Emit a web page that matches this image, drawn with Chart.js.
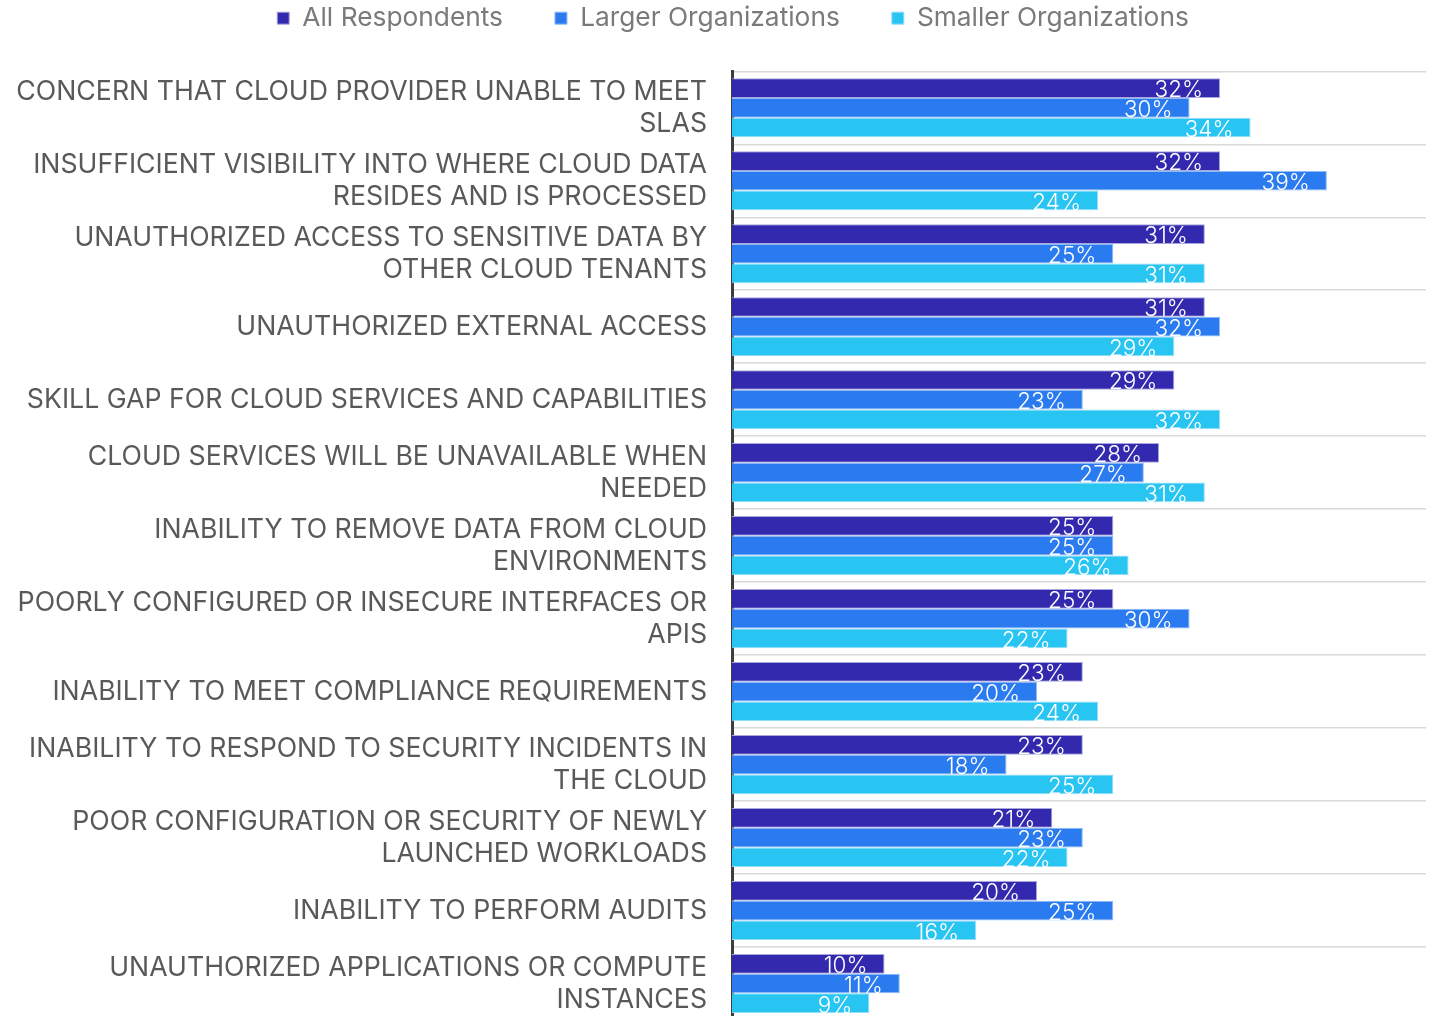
<!DOCTYPE html>
<html>
<head>
<meta charset="utf-8">
<script src="https://cdn.jsdelivr.net/npm/chart.js@4/dist/chart.umd.min.js"></script>
<style>
  html, body { margin: 0; padding: 0; background: #ffffff; overflow: hidden; }
  canvas { display: block; }
</style>
</head>
<body>
<canvas id="chart" width="1435" height="1020"></canvas>
<script>
// Cloud security concerns by respondent group (percent of respondents)
const categories = [
  ["CONCERN THAT CLOUD PROVIDER UNABLE TO MEET", "SLAS"],
  ["INSUFFICIENT VISIBILITY INTO WHERE CLOUD DATA", "RESIDES AND IS PROCESSED"],
  ["UNAUTHORIZED ACCESS TO SENSITIVE DATA BY", "OTHER CLOUD TENANTS"],
  "UNAUTHORIZED EXTERNAL ACCESS",
  "SKILL GAP FOR CLOUD SERVICES AND CAPABILITIES",
  ["CLOUD SERVICES WILL BE UNAVAILABLE WHEN", "NEEDED"],
  ["INABILITY TO REMOVE DATA FROM CLOUD", "ENVIRONMENTS"],
  ["POORLY CONFIGURED OR INSECURE INTERFACES OR", "APIS"],
  "INABILITY TO MEET COMPLIANCE REQUIREMENTS",
  ["INABILITY TO RESPOND TO SECURITY INCIDENTS IN", "THE CLOUD"],
  ["POOR CONFIGURATION OR SECURITY OF NEWLY", "LAUNCHED WORKLOADS"],
  "INABILITY TO PERFORM AUDITS",
  ["UNAUTHORIZED APPLICATIONS OR COMPUTE", "INSTANCES"]
];

const allRespondents = [32, 32, 31, 31, 29, 28, 25, 25, 23, 23, 21, 20, 10];
const largerOrgs     = [30, 39, 25, 32, 23, 27, 25, 30, 20, 18, 23, 25, 11];
const smallerOrgs    = [34, 24, 31, 29, 32, 31, 26, 22, 24, 25, 22, 16, 9];

const seriesNames = ["All Respondents", "Larger Organizations", "Smaller Organizations"];

const FONT = 'Inter, "Noto Sans", sans-serif';

// Percentage text drawn inside the end of each bar
const barValueLabels = {
  id: 'barValueLabels',
  afterDatasetsDraw(chart) {
    const ctx = chart.ctx;
    ctx.save();
    ctx.font = '300 22.5px ' + FONT;
    ctx.fillStyle = '#ffffff';
    ctx.textAlign = 'right';
    ctx.textBaseline = 'alphabetic';
    chart.data.datasets.forEach((ds, i) => {
      const meta = chart.getDatasetMeta(i);
      meta.data.forEach((bar, j) => {
        ctx.fillText(ds.data[j] + '%', bar.x - 17, bar.y + bar.height / 2 - 0.5);
      });
    });
    ctx.restore();
  }
};

// Legend spacing: extra room below it, and a slight shift to the right
const legendPlacement = {
  id: 'legendPlacement',
  beforeInit(chart) {
    const origFit = chart.legend.fit;
    chart.legend.fit = function () {
      origFit.bind(chart.legend)();
      this.height += 30;
    };
  },
  afterLayout(chart) {
    chart.legend.left += 15;
    chart.legend.right += 15;
  }
};

new Chart(document.getElementById('chart'), {
  type: 'bar',
  data: {
    labels: categories,
    datasets: [
      { label: seriesNames[0], data: allRespondents, backgroundColor: '#3229ae', borderColor: '#aaa6de', borderWidth: 1 },
      { label: seriesNames[1], data: largerOrgs,     backgroundColor: '#2a7af0', borderColor: '#90bcf6', borderWidth: 1 },
      { label: seriesNames[2], data: smallerOrgs,    backgroundColor: '#28c4f2', borderColor: '#95def8', borderWidth: 1 }
    ]
  },
  options: {
    indexAxis: 'y',
    responsive: false,
    animation: false,
    layout: { padding: { left: 10, right: 9, top: -47, bottom: 0 } },
    datasets: { bar: { categoryPercentage: 0.81, barPercentage: 1.0 } },
    scales: {
      x: {
        min: 0,
        max: 45.5,
        display: false
      },
      y: {
        afterFit(scale) {
          scale.width = 722;
          scale.paddingTop = 0;
          scale.paddingBottom = 0;
        },
        grid: {
          offset: true,
          color: '#d9d9d9',
          lineWidth: 1.5,
          drawTicks: false
        },
        border: { display: true, color: '#3d3d3d', width: 3 },
        ticks: {
          color: '#595959',
          font: { family: FONT, size: 26.7, lineHeight: 1.2 },
          padding: 25
        }
      }
    },
    plugins: {
      legend: {
        position: 'top',
        labels: {
          color: '#7a7a7a',
          boxWidth: 12,
          boxHeight: 12,
          padding: 52,
          font: { family: FONT, size: 26.3 }
        }
      },
      tooltip: { enabled: false }
    }
  },
  plugins: [barValueLabels, legendPlacement]
});
</script>
</body>
</html>
